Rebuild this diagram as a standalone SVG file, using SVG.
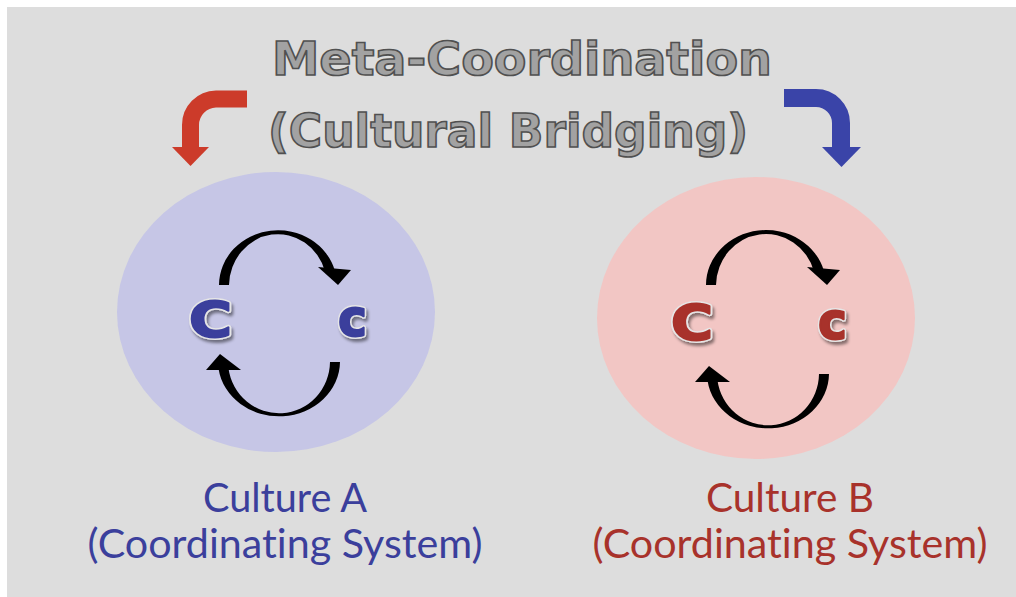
<svg xmlns="http://www.w3.org/2000/svg" width="1016" height="597" viewBox="0 0 1016 597">
  <defs>
    <style>
      .title { font-family: "DejaVu Sans", "Liberation Sans", sans-serif; font-weight: bold; font-size: 46px; fill: #a2a2a2; stroke: #505050; stroke-width: 1.6px; text-anchor: middle; }
      .rim { font-family: "DejaVu Sans", sans-serif; font-weight: bold; fill: #e6e6e6; stroke: #e6e6e6; stroke-width: 5px; stroke-linejoin: round; filter: url(#shadow); }
      .big { font-family: "DejaVu Sans", sans-serif; font-weight: bold; stroke-width: 2px; stroke-linejoin: round; }
      .lbl { font-family: Lato, "Open Sans", sans-serif; font-size: 40px; text-anchor: middle; font-variant-ligatures: none; }
      .blue { fill: #3b3f9c; stroke: #3b3f9c; }
      .red { fill: #a8322b; stroke: #a8322b; }
      .lbl.blue, .lbl.red { stroke: none; }
      .cyc { fill: #000000; }
    </style>
    <filter id="shadow" x="-30%" y="-30%" width="160%" height="160%">
      <feDropShadow dx="2" dy="3" stdDeviation="1.5" flood-color="#000" flood-opacity="0.45"/>
    </filter>
  </defs>
  <rect x="0" y="0" width="1016" height="597" fill="#ffffff"/>
  <rect x="7" y="7" width="1009" height="590" fill="#dddddd"/>

  <g id="title">
    <text class="title" x="522" y="75" textLength="500" lengthAdjust="spacingAndGlyphs">Meta-Coordination</text>
    <text class="title" x="508" y="147" textLength="480" lengthAdjust="spacingAndGlyphs">(Cultural Bridging)</text>
  </g>

  <g id="cultureA">
    <ellipse cx="276" cy="312" rx="159" ry="140" fill="#c6c6e6"/>
    <text class="rim" x="189" y="337" font-size="50" textLength="43" lengthAdjust="spacingAndGlyphs">C</text>
    <text class="big blue" x="189" y="337" font-size="50" textLength="43" lengthAdjust="spacingAndGlyphs">C</text>
    <text class="rim" x="338" y="336" font-size="52" textLength="29" lengthAdjust="spacingAndGlyphs">c</text>
    <text class="big blue" x="338" y="336" font-size="52" textLength="29" lengthAdjust="spacingAndGlyphs">c</text>
    <text class="lbl blue" x="285" y="512" textLength="164" lengthAdjust="spacingAndGlyphs">Culture A</text>
    <text class="lbl blue" x="285" y="558" textLength="395" lengthAdjust="spacingAndGlyphs">(Coordinating System)</text>
  </g>

  <g id="cultureB">
    <ellipse cx="756" cy="318" rx="159" ry="141" fill="#f2c6c4"/>
    <text class="rim" x="671" y="340" font-size="50" textLength="42" lengthAdjust="spacingAndGlyphs">C</text>
    <text class="big red" x="671" y="340" font-size="50" textLength="42" lengthAdjust="spacingAndGlyphs">C</text>
    <text class="rim" x="818" y="339" font-size="52" textLength="29" lengthAdjust="spacingAndGlyphs">c</text>
    <text class="big red" x="818" y="339" font-size="52" textLength="29" lengthAdjust="spacingAndGlyphs">c</text>
    <text class="lbl red" x="790" y="512" textLength="168" lengthAdjust="spacingAndGlyphs">Culture B</text>
    <text class="lbl red" x="790" y="558" textLength="395" lengthAdjust="spacingAndGlyphs">(Coordinating System)</text>
  </g>

  <g id="connectors">
    <path d="M247,99 H216 A26,26 0 0 0 190.5,125 V149" fill="none" stroke="#cc3b2a" stroke-width="17"/>
    <polygon points="172,147 209,147 190.5,166" fill="#cc3b2a"/>
    <path d="M784,98 H816 A25,25 0 0 1 841,123 V149" fill="none" stroke="#3a44a8" stroke-width="18"/>
    <polygon points="822,147 861,147 841.5,167" fill="#3a44a8"/>

    <path class="cyc" d="M219,285 A59,55 0 0 1 335,271 L325,271.5 A49,52 0 0 0 229,285 Z"/>
    <polygon class="cyc" points="318,267 351,270 338,285"/>
    <path class="cyc" d="M340,362 A61,55 0 0 1 218.6,369 L228.5,368.5 A51,52 0 0 0 330,362 Z"/>
    <polygon class="cyc" points="206,370 241,370 220,354"/>

    <path class="cyc" d="M706,285 A60,55 0 0 1 824,271 L814,271.5 A50,52 0 0 0 716,285 Z"/>
    <polygon class="cyc" points="807,267 840,270 827,285"/>
    <path class="cyc" d="M829,374 A61,55 0 0 1 707.6,381 L717.5,380.5 A51,52 0 0 0 819,374 Z"/>
    <polygon class="cyc" points="695,382 730,382 709,366"/>
  </g>
</svg>
